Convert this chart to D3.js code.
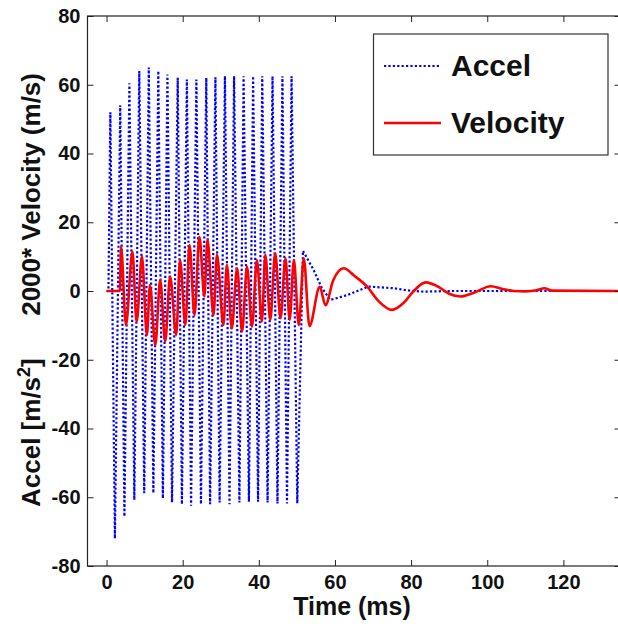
<!doctype html>
<html>
<head>
  <meta charset="utf-8">
  <style>
    body { margin: 0; background: #fff; }
    svg { display: block; }
    svg text { font-family: "Liberation Sans", Arial, sans-serif; font-weight: bold; }
  </style>
  <script src="https://cdn.jsdelivr.net/npm/d3@7"></script>
</head>
<body>
  <script>
  // accel samples (ms, m/s^2)
  var accelTime = [0, 0.5, 1.0, 2.2, 3.6, 4.7, 6.0, 7.3, 8.6, 9.9, 11.1, 12.3, 13.6, 14.8, 16.0, 17.2,
    18.7, 19.8, 21.1, 22.2, 23.6, 24.8, 26.2, 27.2, 28.6, 29.7, 31.1, 32.3, 33.5, 34.9, 36.0, 37.4,
    38.5, 39.8, 40.9, 42.3, 43.6, 44.9, 46.2, 47.4, 48.6, 50.1, 51.6, 54.4, 56.5, 58.8, 63.2, 68.8,
    75.4, 79, 83.3, 90, 135];
  var accelValue = [0, 0, 52, -72, 54, -65.6, 60.4, -60.8, 64, -58.8, 65, -58.8, 64, -60.3, 63, -61.5,
    62, -62, 61.5, -62.5, 61.5, -62, 62, -62, 62.2, -61.5, 62.5, -62, 62.5, -61.5, 62.5, -61.3,
    62.5, -61.3, 62.5, -61.5, 62.5, -61.8, 62.5, -61.8, 62.5, -61.8, 11.7, 6.1, 1.0, -2.6, -1.2, 1.3,
    0.8, 0.2, -0.2, 0, 0];

  // 2000 * velocity (m/s)
  var velTime = [0, 3.5, 3.8, 5.1, 6.8, 7.9, 9.3, 10.6, 11.4, 12.8, 14.1, 15.4, 16.7, 18.3, 19.3, 20.7,
    21.8, 23.1, 24.4, 25.7, 26.5, 28.1, 29.0, 30.7, 31.6, 32.9, 34.3, 35.6, 36.9, 38.2, 39.5, 40.8,
    41.7, 43.0, 44.3, 45.7, 47.0, 48.1, 49.2, 50.5, 51.8, 53.3, 56.0, 57.5, 59.5, 62.3, 65, 68.5,
    71.5, 75, 78, 80.7, 83.8, 87.5, 90, 93, 96.5, 100.9, 104, 107, 110, 113, 115, 117, 135];
  var velValue = [0, 0, 12.9, -9.9, 11.4, -9, 10, -12.8, 1.7, -15.7, 3.2, -14.7, 4.2, -12.8, 9, -9.9,
    13.4, -7, 15.8, -1.6, 14.8, -7, 10.5, -9.9, 7.6, -10.8, 6.6, -11.8, 7.1, -10.4, 9, -8.9,
    10.5, -8.4, 11, -7.9, 9.5, -8.4, 9, -9.9, 9.5, -10.2, 1.2, -4.1, 3, 6.6, 4.5, 1.2,
    -3, -5.5, -3.5, 0, 2.5, 1, -0.8, -1.6, -0.5, 1.4, 0.6, 0, -0.1, 0.2, 0.8, 0.1, 0];

  var xTicks = [0, 20, 40, 60, 80, 100, 120];
  var yTicks = [-80, -60, -40, -20, 0, 20, 40, 60, 80];
  var seriesNames = ["Accel", "Velocity"];

  var W = 618, H = 627;
  var pLeft = 87.5, pRight = 620.5, pTop = 16, pBottom = 566;

  var svg = d3.select("body").append("svg")
    .attr("width", W)
    .attr("height", H);

  var x = d3.scaleLinear().domain([-5, 135]).range([pLeft, pRight]);
  var y = d3.scaleLinear().domain([-80, 80]).range([pBottom, pTop]);

  svg.append("clipPath").attr("id", "clip")
    .append("rect")
    .attr("x", pLeft).attr("y", pTop)
    .attr("width", pRight - pLeft).attr("height", pBottom - pTop);

  var accel = accelTime.map(function(t, i) { return [t, accelValue[i]]; });
  var vel = velTime.map(function(t, i) { return [t, velValue[i]]; });

  var line = d3.line()
    .x(function(d) { return x(d[0]); })
    .y(function(d) { return y(d[1]); });

  var plot = svg.append("g").attr("clip-path", "url(#clip)");

  plot.append("path")
    .datum(accel)
    .attr("d", line)
    .attr("fill", "none")
    .attr("stroke", "#0000ff")
    .attr("stroke-width", 2.2)
    .attr("stroke-dasharray", "2.2,2.2");

  plot.append("path")
    .datum(vel)
    .attr("d", line.curve(d3.curveMonotoneX))
    .attr("fill", "none")
    .attr("stroke", "#ff0000")
    .attr("stroke-width", 2.6);

  // axes, matlab style: ticks inside, mirrored on top and right
  var axisColor = "#222";
  var plain = function(d) { return String(d); };   // plain hyphen minus like the original
  function styleAxis(g) {
    g.selectAll(".domain").remove();
    g.selectAll(".tick line").attr("stroke", axisColor);
    g.selectAll("text").attr("fill", "#111").style("font-size", "20px");
  }

  svg.append("g")
    .attr("transform", "translate(0," + pBottom + ")")
    .call(d3.axisBottom(x).tickValues(xTicks).tickFormat(plain).tickSizeInner(-6).tickSizeOuter(0).tickPadding(9))
    .call(styleAxis);
  svg.append("g")
    .attr("transform", "translate(0," + pTop + ")")
    .call(d3.axisTop(x).tickValues(xTicks).tickSizeInner(-6).tickSizeOuter(0).tickFormat(""))
    .call(styleAxis);
  svg.append("g")
    .attr("transform", "translate(" + pLeft + ",0)")
    .call(d3.axisLeft(y).tickValues(yTicks).tickFormat(plain).tickSizeInner(-6).tickSizeOuter(0).tickPadding(7))
    .call(styleAxis);
  svg.append("g")
    .attr("transform", "translate(" + pRight + ",0)")
    .call(d3.axisRight(y).tickValues(yTicks).tickSizeInner(-6).tickSizeOuter(0).tickFormat(""))
    .call(styleAxis);

  svg.append("rect")
    .attr("x", pLeft).attr("y", pTop)
    .attr("width", pRight - pLeft).attr("height", pBottom - pTop)
    .attr("fill", "none")
    .attr("stroke", axisColor)
    .attr("stroke-width", 1.2);

  // axis titles
  svg.append("text")
    .attr("x", (pLeft + pRight) / 2 - 2)
    .attr("y", 615)
    .attr("text-anchor", "middle")
    .style("font-size", "25px")
    .attr("fill", "#111")
    .text("Time (ms)");

  var yl1 = svg.append("text")
    .attr("transform", "translate(40,507) rotate(-90)")
    .attr("text-anchor", "start")
    .style("font-size", "26px")
    .attr("fill", "#111");
  yl1.append("tspan").text("Accel [m/s");
  yl1.append("tspan").attr("dy", -10).style("font-size", "18px").text("2");
  yl1.append("tspan").attr("dy", 10).text("]");

  svg.append("text")
    .attr("transform", "translate(40,73) rotate(-90)")
    .attr("text-anchor", "end")
    .style("font-size", "26px")
    .attr("fill", "#111")
    .text("2000* Velocity (m/s)");

  // legend
  var lg = svg.append("g");
  lg.append("rect")
    .attr("x", 373.5).attr("y", 34)
    .attr("width", 234.5).attr("height", 121)
    .attr("fill", "#fff")
    .attr("stroke", "#333")
    .attr("stroke-width", 1.2);

  var legendY = [66, 123];
  var legendStyle = [
    { color: "#0000ff", width: 2.2, dash: "2.2,2.2" },
    { color: "#ff0000", width: 2.6, dash: null }
  ];
  seriesNames.forEach(function(name, i) {
    lg.append("line")
      .attr("x1", 384).attr("x2", 441)
      .attr("y1", legendY[i]).attr("y2", legendY[i])
      .attr("stroke", legendStyle[i].color)
      .attr("stroke-width", legendStyle[i].width)
      .attr("stroke-dasharray", legendStyle[i].dash);
    lg.append("text")
      .attr("x", 451)
      .attr("y", legendY[i] + 10)
      .style("font-size", "30px")
      .attr("fill", "#111")
      .text(name);
  });
  </script>
</body>
</html>
